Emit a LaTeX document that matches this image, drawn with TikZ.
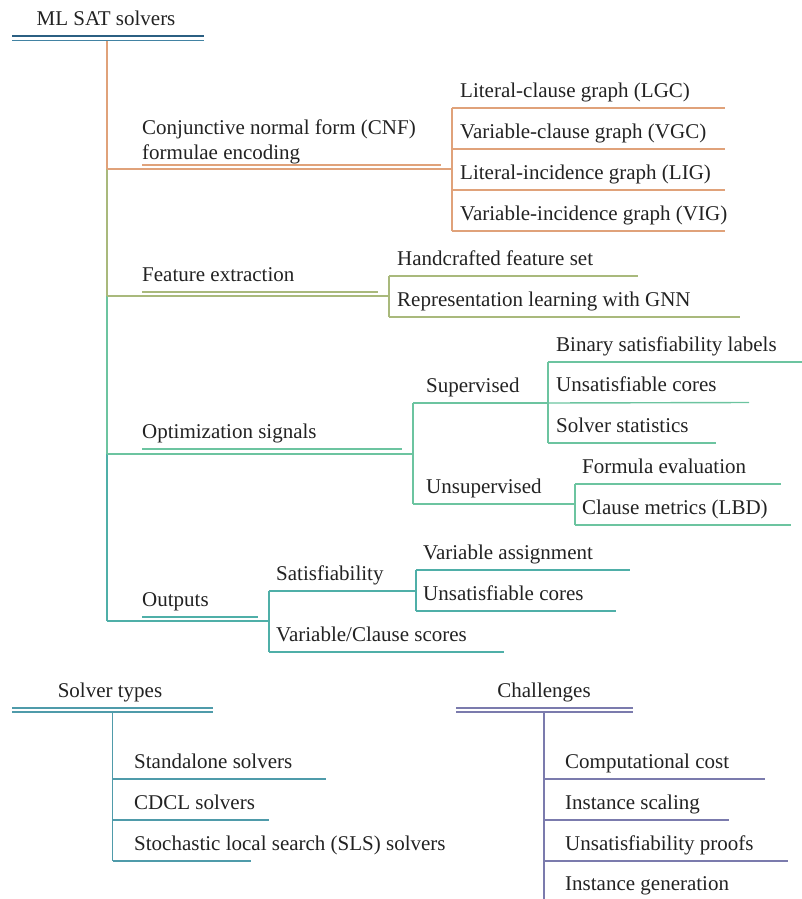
\documentclass[tikz,border=0pt]{standalone}
\usepackage{fontspec}
\setmainfont{Liberation Serif}
\definecolor{cnfc}{HTML}{E0A27A}
\definecolor{featc}{HTML}{A9B97C}
\definecolor{optc}{HTML}{6CC4A0}
\definecolor{outc}{HTML}{4FAFA8}
\definecolor{titA}{HTML}{2B5F82}
\definecolor{titB}{HTML}{4283A3}
\definecolor{solvc}{HTML}{4F9BAA}
\definecolor{chalc}{HTML}{7B7BAD}
\definecolor{txtc}{HTML}{222222}
\tikzset{
  lbl/.style={anchor=base west,inner sep=0pt,text=txtc,font=\fontsize{21}{25}\selectfont},
  ttl/.style={anchor=base,inner sep=0pt,text=txtc,font=\fontsize{21}{25}\selectfont},
  ln/.style={line width=1.4pt,line cap=butt},
}
\begin{document}
\begin{tikzpicture}[x=1pt,y=-1pt]
\useasboundingbox (0,0) rectangle (802,899);
% ---------- Root ----------
\node[ttl] (root) at (106,26) {ML SAT solvers};
\coordinate (rA1) at (12,36); \coordinate (rA2) at (204,36);
\coordinate (rB1) at (12,40.5); \coordinate (rB2) at (204,40.5);
\draw[ln,titA] (rA1) -- (rA2);
\draw[ln,titB] (rB1) -- (rB2);
\coordinate (t0) at (107,41);
\coordinate (t1) at (107,169);
\coordinate (t2) at (107,296);
\coordinate (t3) at (107,454);
\coordinate (t4) at (107,621);
\draw[ln,cnfc] (t0) -- (t1);
\draw[ln,featc] (t1) -- (t2);
\draw[ln,optc] (t2) -- (t3);
\draw[ln,outc] (t3) -- (t4);
% ---------- CNF ----------
\node[lbl] (cnf) at (142,134) {Conjunctive normal form (CNF)};
\node[lbl] (cnf2) at (142,159) {formulae encoding};
\coordinate (cnfu1) at (142,165); \coordinate (cnfu2) at (441,165);
\draw[ln,cnfc] (cnfu1) -- (cnfu2);
\coordinate (cnfb) at (452,169);
\draw[ln,cnfc] (t1) -- (cnfb);
\coordinate (cb1) at (452,108); \coordinate (cb4) at (452,231);
\coordinate (cb2) at (452,149); \coordinate (cb3) at (452,190);
\draw[ln,cnfc] (cb1) -- (cb4);
\node[lbl] (lgc) at (460,97) {Literal-clause graph (LGC)};
\node[lbl] (vgc) at (460,138) {Variable-clause graph (VGC)};
\node[lbl] (lig) at (460,179) {Literal-incidence graph (LIG)};
\node[lbl] (vig) at (460,220) {Variable-incidence graph (VIG)};
\coordinate (ce1) at (725,108); \coordinate (ce2) at (725,149);
\coordinate (ce3) at (725,190); \coordinate (ce4) at (725,231);
\draw[ln,cnfc] (cb1) -- (ce1);
\draw[ln,cnfc] (cb2) -- (ce2);
\draw[ln,cnfc] (cb3) -- (ce3);
\draw[ln,cnfc] (cb4) -- (ce4);
% ---------- Feature extraction ----------
\node[lbl] (feat) at (142,281) {Feature extraction};
\coordinate (fu1) at (142,292); \coordinate (fu2) at (378,292);
\draw[ln,featc] (fu1) -- (fu2);
\coordinate (fb) at (389,296);
\draw[ln,featc] (t2) -- (fb);
\coordinate (fb1) at (389,276); \coordinate (fb2) at (389,317);
\draw[ln,featc] (fb1) -- (fb2);
\node[lbl] (hand) at (397,265) {Handcrafted feature set};
\node[lbl] (gnn) at (397,306) {Representation learning with GNN};
\coordinate (fe1) at (638,276); \coordinate (fe2) at (740,317);
\draw[ln,featc] (fb1) -- (fe1);
\draw[ln,featc] (fb2) -- (fe2);
% ---------- Optimization signals ----------
\node[lbl] (opt) at (142,438) {Optimization signals};
\coordinate (ou1) at (142,449); \coordinate (ou2) at (402,449);
\draw[ln,optc] (ou1) -- (ou2);
\coordinate (ob) at (413,454);
\draw[ln,optc] (t3) -- (ob);
\coordinate (ob1) at (413,403); \coordinate (ob2) at (413,504);
\draw[ln,optc] (ob1) -- (ob2);
% Supervised
\node[lbl] (sup) at (426,392) {Supervised};
\coordinate (sb) at (548,403);
\draw[ln,optc] (ob1) -- (sb);
\coordinate (sb1) at (548,362); \coordinate (sb3) at (548,443);
\draw[ln,optc] (sb1) -- (sb3);
\node[lbl] (bin) at (556,351) {Binary satisfiability labels};
\node[lbl] (uc1) at (556,391) {Unsatisfiable cores};
\node[lbl] (sst) at (556,432) {Solver statistics};
\coordinate (se1) at (802,362); \coordinate (se2) at (749,402.5); \coordinate (se3) at (716,443);
\draw[ln,optc] (sb1) -- (se1);
\draw[ln,optc] (sb) -- (se2);
\draw[ln,optc] (sb3) -- (se3);
% Unsupervised
\node[lbl] (uns) at (426,493) {Unsupervised};
\coordinate (ub) at (575,504);
\draw[ln,optc] (ob2) -- (ub);
\coordinate (ub1) at (575,484); \coordinate (ub2) at (575,525);
\draw[ln,optc] (ub1) -- (ub2);
\node[lbl] (fev) at (582,473) {Formula evaluation};
\node[lbl] (lbd) at (582,514) {Clause metrics (LBD)};
\coordinate (ue1) at (781,484); \coordinate (ue2) at (791,525);
\draw[ln,optc] (ub1) -- (ue1);
\draw[ln,optc] (ub2) -- (ue2);
% ---------- Outputs ----------
\node[lbl] (outp) at (142,606) {Outputs};
\coordinate (pu1) at (142,617); \coordinate (pu2) at (258,617);
\draw[ln,outc] (pu1) -- (pu2);
\coordinate (pb) at (269,621);
\draw[ln,outc] (t4) -- (pb);
\coordinate (pb1) at (269,591); \coordinate (pb2) at (269,652);
\draw[ln,outc] (pb1) -- (pb2);
\node[lbl] (sat) at (276,580) {Satisfiability};
\coordinate (satb) at (416,591);
\draw[ln,outc] (pb1) -- (satb);
\coordinate (satb1) at (416,570); \coordinate (satb2) at (416,611);
\draw[ln,outc] (satb1) -- (satb2);
\node[lbl] (vas) at (423,559) {Variable assignment};
\node[lbl] (uc2) at (423,600) {Unsatisfiable cores};
\coordinate (sate1) at (630,570); \coordinate (sate2) at (616,611);
\draw[ln,outc] (satb1) -- (sate1);
\draw[ln,outc] (satb2) -- (sate2);
\node[lbl] (vcs) at (276,641) {Variable/Clause scores};
\coordinate (pe2) at (504,652);
\draw[ln,outc] (pb2) -- (pe2);
% ---------- Solver types ----------
\node[ttl] (stypes) at (110,697) {Solver types};
\coordinate (sA1) at (12,708); \coordinate (sA2) at (213,708);
\coordinate (sB1) at (12,712); \coordinate (sB2) at (213,712);
\draw[ln,solvc] (sA1) -- (sA2);
\draw[ln,solvc] (sB1) -- (sB2);
\coordinate (st0) at (112.5,712);
\coordinate (st1) at (112.5,779); \coordinate (st2) at (112.5,820); \coordinate (st3) at (112.5,861);
\draw[ln,solvc] (st0) -- (st3);
\node[lbl] (stand) at (134,768) {Standalone solvers};
\node[lbl] (cdcl) at (134,809) {CDCL solvers};
\node[lbl] (sls) at (134,850) {Stochastic local search (SLS) solvers};
\coordinate (ste1) at (326,779); \coordinate (ste2) at (268.5,820); \coordinate (ste3) at (250.5,861);
\draw[ln,solvc] (st1) -- (ste1);
\draw[ln,solvc] (st2) -- (ste2);
\draw[ln,solvc] (st3) -- (ste3);
% ---------- Challenges ----------
\node[ttl] (chal) at (544,697) {Challenges};
\coordinate (cA1) at (456,708); \coordinate (cA2) at (633,708);
\coordinate (cB1) at (456,712); \coordinate (cB2) at (633,712);
\draw[ln,chalc] (cA1) -- (cA2);
\draw[ln,chalc] (cB1) -- (cB2);
\coordinate (ch0) at (544,712);
\coordinate (ch1) at (544,779); \coordinate (ch2) at (544,820); \coordinate (ch3) at (544,861);
\coordinate (ch4) at (544,899);
\draw[ln,chalc] (ch0) -- (ch4);
\node[lbl] (cc) at (565,768) {Computational cost};
\node[lbl] (isc) at (565,809) {Instance scaling};
\node[lbl] (unp) at (565,850) {Unsatisfiability proofs};
\node[lbl] (ig) at (565,890) {Instance generation};
\coordinate (che1) at (765,779); \coordinate (che2) at (729,820); \coordinate (che3) at (788,861);
\draw[ln,chalc] (ch1) -- (che1);
\draw[ln,chalc] (ch2) -- (che2);
\draw[ln,chalc] (ch3) -- (che3);
\end{tikzpicture}
\end{document}
